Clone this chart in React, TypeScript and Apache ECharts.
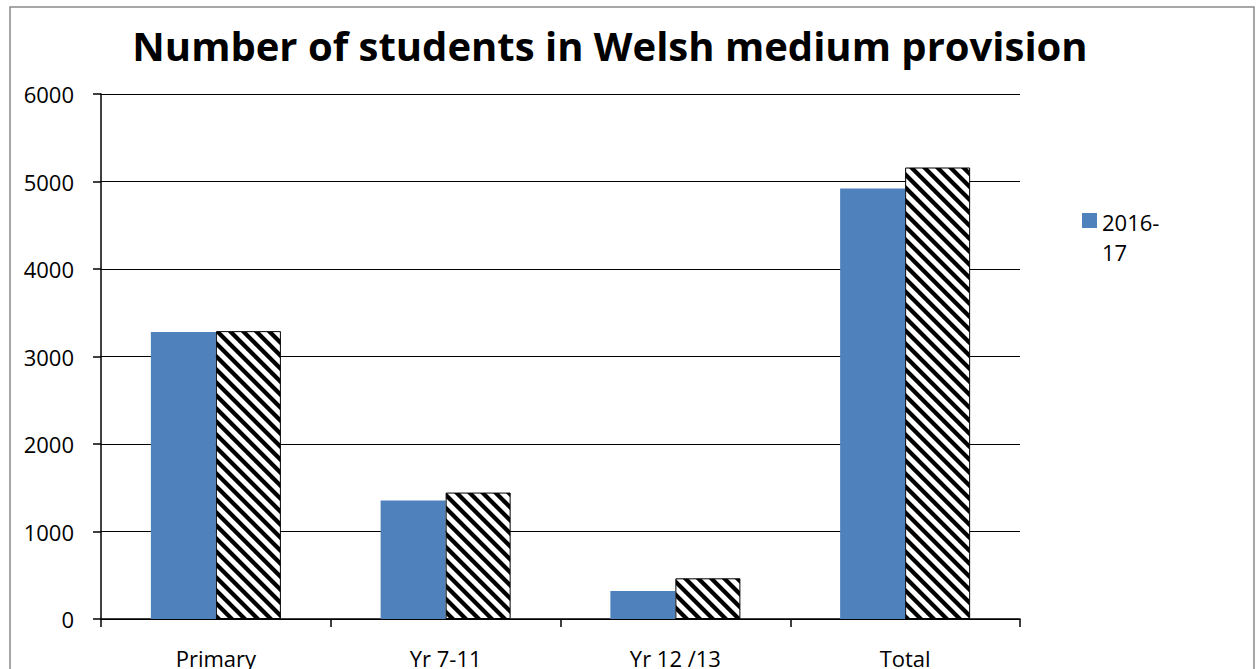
import React, { useEffect, useRef } from 'react';
import * as echarts from 'echarts';

const categories = ['Primary', 'Yr 7-11', 'Yr 12 /13', 'Total'];
const seriesA = [3280, 1355, 320, 4920];
const seriesB = [3290, 1445, 465, 5160];
const seriesNames = ['2016-17', '2017-18'];
const titleText = 'Number of students in Welsh medium provision';

function makeHatch(): HTMLCanvasElement {
  const s = 13;
  const c = document.createElement('canvas');
  c.width = s;
  c.height = s;
  const ctx = c.getContext('2d')!;
  const img = ctx.createImageData(s, s);
  const w = 6;
  for (let y = 0; y < s; y++) {
    for (let x = 0; x < s; x++) {
      let cov = 0;
      for (let sy = 0; sy < 4; sy++) {
        for (let sx = 0; sx < 4; sx++) {
          const px = x + (sx + 0.5) / 4;
          const py = y + (sy + 0.5) / 4;
          const d = (((px - py) % s) + s) % s;
          if (d < w) cov++;
        }
      }
      const v = Math.round(255 * (1 - cov / 16));
      const i = (y * s + x) * 4;
      img.data[i] = v;
      img.data[i + 1] = v;
      img.data[i + 2] = v;
      img.data[i + 3] = 255;
    }
  }
  ctx.putImageData(img, 0, 0);
  return c;
}

export default function App() {
  const ref = useRef<HTMLDivElement>(null);
  useEffect(() => {
    if (!ref.current) return;
    const chart = echarts.init(ref.current, null, { renderer: 'svg' });
    const hatch = makeHatch();
    const font = "'Open Sans', 'Liberation Sans', sans-serif";
    chart.setOption({
      animation: false,
      backgroundColor: '#fff',
      textStyle: { fontFamily: font },
      graphic: [
        {
          type: 'rect',
          shape: { x: 10, y: 7, width: 1244, height: 700 },
          style: { fill: 'none', stroke: '#8a8a8a', lineWidth: 1.5 },
          silent: true,
        },
        {
          type: 'text',
          x: 610,
          y: 45,
          style: {
            text: titleText,
            textAlign: 'center',
            textVerticalAlign: 'middle',
            fontFamily: font,
            fontWeight: 'bold',
            fontSize: 40,
            fill: '#000',
          },
        },
      ],
      legend: {
        data: [seriesNames[0]],
        left: 1077,
        top: 202,
        itemWidth: 15,
        itemHeight: 60,
        itemGap: 10,
        icon:
          'path://M0,0h0.01v0.01h-0.01z M0,6h15v15h-15z M0,59.99h0.01v0.01h-0.01z',
        formatter: (n: string) => n.replace('-', '-\n'),
        textStyle: {
          fontSize: 22,
          color: '#000',
          lineHeight: 30,
          fontFamily: font,
        },
      },
      grid: { left: 101, right: 236, top: 94, bottom: 49, containLabel: false },
      xAxis: {
        type: 'category',
        data: categories,
        axisLine: { lineStyle: { color: '#000', width: 1.5 } },
        axisTick: { show: true, length: 8, lineStyle: { color: '#000', width: 1.5 } },
        axisLabel: { color: '#000', fontSize: 22, margin: 28, fontFamily: font },
      },
      yAxis: {
        type: 'value',
        min: 0,
        max: 6000,
        interval: 1000,
        axisLine: { show: true, lineStyle: { color: '#000', width: 1.5 } },
        axisTick: { show: true, length: 8, lineStyle: { color: '#000', width: 1.5 } },
        axisLabel: {
          color: '#000',
          fontSize: 22,
          margin: 27,
          fontFamily: font,
          padding: [10, 0, 0, 0],
          formatter: (v: number) => String(v),
        },
        splitLine: { show: true, lineStyle: { color: '#000', width: 1.2 } },
      },
      series: [
        {
          name: seriesNames[0],
          type: 'bar',
          data: seriesA,
          barWidth: 65,
          barGap: '0%',
          itemStyle: { color: '#4f81bd' },
        },
        {
          name: seriesNames[1],
          type: 'bar',
          data: seriesB,
          barWidth: 65,
          barGap: '0%',
          itemStyle: {
            color: { image: hatch, repeat: 'repeat', imageWidth: 13, imageHeight: 13 },
            borderColor: '#000',
            borderWidth: 1,
          },
        },
      ],
    });
    return () => chart.dispose();
  }, []);
  return (
    <div
      ref={ref}
      style={{ position: 'fixed', left: 0, top: 0, width: 1256, height: 669 }}
    />
  );
}
